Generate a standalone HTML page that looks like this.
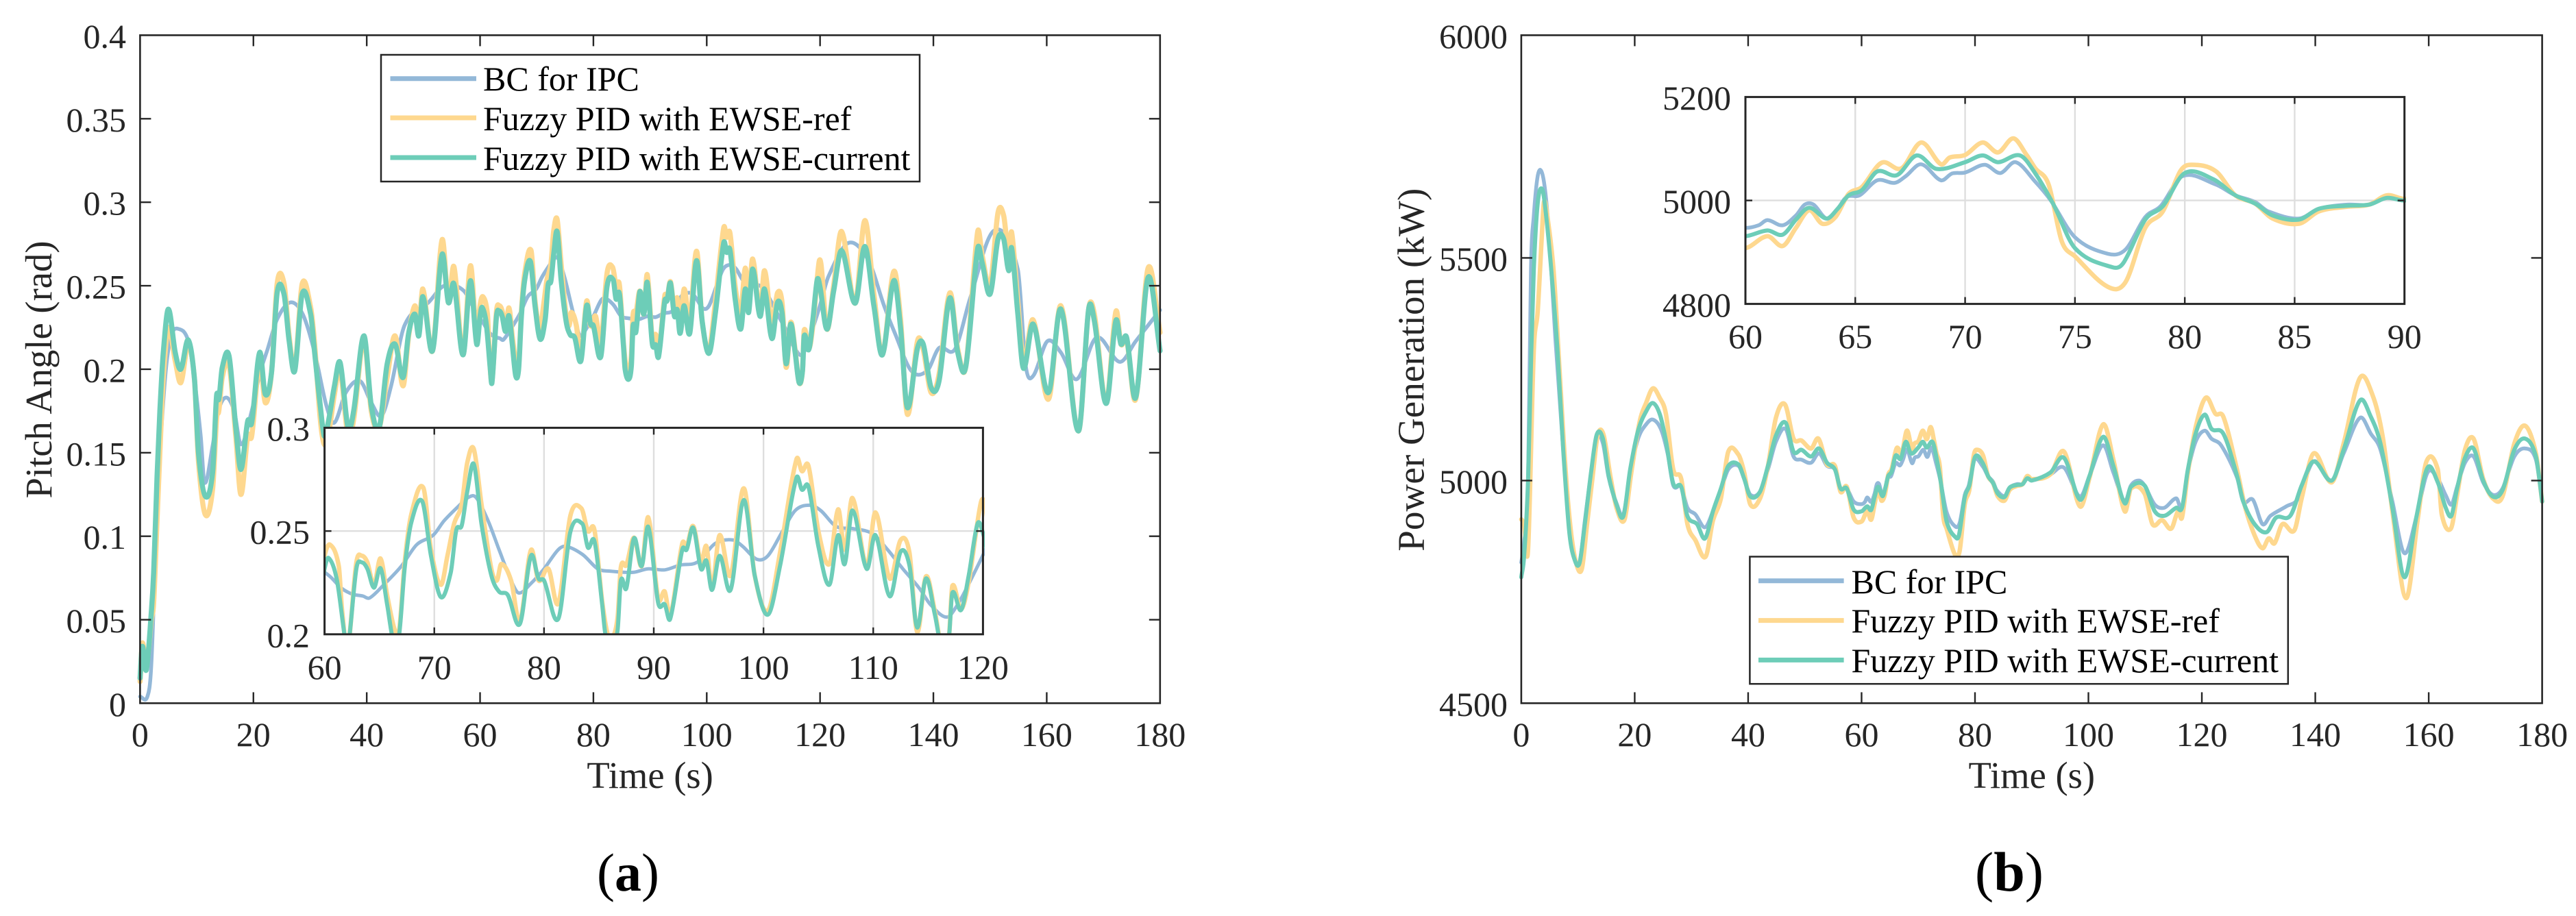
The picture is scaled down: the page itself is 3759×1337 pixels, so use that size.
<!DOCTYPE html>
<html lang="en">
<head>
<meta charset="utf-8">
<title>Pitch angle and power generation comparison</title>
<style>
html,body{margin:0;padding:0;background:#fff;width:3759px;height:1337px;overflow:hidden;}
svg{display:block;font-family:"Liberation Serif","Times New Roman",serif;}
</style>
</head>
<body>
<svg id="figure" xmlns="http://www.w3.org/2000/svg" width="3759" height="1337" viewBox="0 0 3759 1337">
  <rect x="0" y="0" width="3759" height="1337" fill="#fff"/>
  <defs>
    <clipPath id="clip-a"><rect x="200" y="47" width="1498" height="984"/></clipPath>
    <clipPath id="clip-a-inset"><rect x="472" y="624" width="965" height="302"/></clipPath>
    <clipPath id="clip-b"><rect x="2216" y="47" width="1497" height="984"/></clipPath>
    <clipPath id="clip-b-inset"><rect x="2546" y="141" width="965" height="303"/></clipPath>
  </defs>

  <g id="panel-a">
    <g id="main-a"></g>
    <text x="948.6" y="1150" font-size="54.6" text-anchor="middle" fill="#262626">Time (s)</text>
    <text transform="translate(75,539.5) rotate(-90)" font-size="54.6" text-anchor="middle" fill="#262626">Pitch Angle (rad)</text>
    <g id="inset-a"></g>
    <g>
      <rect x="556" y="80" width="786" height="185" fill="#fff" stroke="#262626" stroke-width="2.5"/>
      <line x1="569.5" x2="695" y1="114.7" y2="114.7" stroke="#93b8d8" stroke-width="7"/>
      <text x="705" y="132" font-size="50" fill="#000">BC for IPC</text>
      <line x1="569.5" x2="695" y1="172" y2="172" stroke="#fed88f" stroke-width="7"/>
      <text x="705" y="190" font-size="50" fill="#000">Fuzzy PID with EWSE-ref</text>
      <line x1="569.5" x2="695" y1="230" y2="230" stroke="#6dcdb8" stroke-width="7"/>
      <text x="705" y="248" font-size="50" fill="#000">Fuzzy PID with EWSE-current</text>
    </g>
    <text x="916.5" y="1300" font-size="78" text-anchor="middle" fill="#000">(<tspan font-weight="bold">a</tspan>)</text>
  </g>

  <g id="panel-b">
    <g id="main-b"></g>
    <text x="2964.8" y="1150" font-size="54.6" text-anchor="middle" fill="#262626">Time (s)</text>
    <text transform="translate(2077.5,539.7) rotate(-90)" font-size="55" text-anchor="middle" fill="#262626" textLength="530" lengthAdjust="spacing">Power Generation (kW)</text>
    <g id="inset-b"></g>
    <g>
      <rect x="2553.4" y="812.5" width="785.4" height="185.7" fill="#fff" stroke="#262626" stroke-width="2.5"/>
      <line x1="2566" x2="2690.6" y1="847.8" y2="847.8" stroke="#93b8d8" stroke-width="7"/>
      <text x="2701.5" y="866" font-size="50" fill="#000">BC for IPC</text>
      <line x1="2566" x2="2690.6" y1="905.6" y2="905.6" stroke="#fed88f" stroke-width="7"/>
      <text x="2701.5" y="923" font-size="50" fill="#000">Fuzzy PID with EWSE-ref</text>
      <line x1="2566" x2="2690.6" y1="963.4" y2="963.4" stroke="#6dcdb8" stroke-width="7"/>
      <text x="2701.5" y="981" font-size="50" fill="#000">Fuzzy PID with EWSE-current</text>
    </g>
    <text x="2932" y="1300" font-size="82" text-anchor="middle" fill="#000">(<tspan font-weight="bold">b</tspan>)</text>
  </g>
</svg>

<script>
/* ---------- Panel (a): pitch angle (rad) ---------- */
var pitchTimeBlue = [0,1.3,2,3,4.4,5.5,6.9,8.5,9.6,10.7,
  11.4,12.8,13.8,15.2,16.6,17.8,19.7,21.1,22.5,24.2,
  26.5,28.7,30.8,32.9,34.3,36.3,38.8,40.8,42.6,44.3,
  46.7,50.9,53.7,57.1,59.6,
  60.6,61.5,62.5,63.5,64.1,65.4,67,68.4,69.9,70.9,
  72.2,73.1,73.8,74.9,75.9,77,77.7,78.8,80,81.3,
  82,83.5,84.9,86,88.1,89.5,91,92.4,94,95.6,
  97.2,98.1,99.4,100.4,101.7,102.9,104.2,105.2,106.6,108.1,
  109.9,111.3,112.7,114.2,115.2,116.7,117.7,118.8,120,121.5,
  125,128.5,131.3,133.3,136.1,138.9,141,143.8,146.5,150.7,
  154.9,156.3,157.6,160.1,162.5,165.3,168.8,172.9,175.7,180];
var pitchBlue = [.004,.004,.024,.117,.194,.22,.224,.217,.194,.16,
  .132,.154,.175,.183,.175,.155,.175,.197,.212,.23,
  .24,.233,.21,.178,.168,.186,.193,.18,.172,.19,
  .2265,.24,.25,.247,.232,
  .2275,.2225,.2195,.2185,.2176,.224,.233,.2434,.248,.255,
  .262,.2663,.2663,.255,.241,.226,.22,.2246,.2317,.241,
  .2426,.2387,.2317,.2306,.23,.2317,.2312,.2335,.235,.244,
  .2457,.2426,.2363,.238,.2496,.26,.2625,.26,.2523,.2512,
  .2488,.241,.2317,.2223,.2145,.2083,.2145,.2254,.2384,.2557,
  .2756,.2654,.238,.2208,.199,.199,.2127,.212,.2427,.283,
  .2597,.202,.196,.2167,.21,.194,.219,.2044,.2167,.2354];

var pitchTimeYellow = [0,.4,1.1,2,2.4,3,3.5,4.1,5,6.2,
  7.2,8.5,9.6,10.3,11.5,12.8,13.5,13.9,14.5,15.7,
  16.9,17.8,19,19.7,21.1,22.1,23.2,24.2,25.4,26.3,
  27.3,28.6,30.1,30.8,31.8,32.5,33.2,34.3,35.3,36.7,
  37.7,39.5,40.8,42.2,43.6,45,46.4,47.4,48.5,49.2,
  49.9,51.6,53.3,54.4,55.4,57,58.3,59.4,
  60,60.5,61.3,61.6,62.1,62.9,63.4,63.9,64.5,65.1,
  65.7,66.4,66.8,67.3,67.9,69,69.7,70.6,71.2,71.8,
  72.5,73,73.6,74.3,75.2,75.7,76.1,77,77.8,78.8,
  79.5,80.4,81.3,82.4,83.4,84,84.6,85.3,85.8,86.2,
  86.7,87,87.5,88.2,88.9,89.5,90.4,91,91.5,92.6,
  93,93.6,94.3,94.8,95.3,96,97,98.2,99.2,100.4,
  101.5,103,103.5,104.1,105,106,106.8,107.4,108.1,109.4,
  110.2,111.5,112.5,113.3,114,114.8,115.6,116.3,116.9,117.2,
  118,118.7,119.8,120.2,121.2,122.4,123.8,126.2,127.9,129.5,
  131,133,134.2,135.4,137.2,138.2,139.6,141,142.9,144.3,
  145.7,147.8,148.6,150,151.4,152.4,153.3,153.8,154.9,155.9,
  157.6,160.3,162.5,165.6,167.4,168.4,170.5,172.2,173.1,174.1,
  175.7,177.9,180];
var pitchYellow = [.013,.036,.022,.05,.06,.11,.15,.195,.225,.205,
  .192,.215,.194,.145,.113,.128,.17,.175,.195,.203,
  .16,.125,.16,.16,.205,.18,.198,.2515,.2515,.22,
  .2,.251,.237,.215,.17,.155,.16,.185,.2,.16,
  .17,.218,.175,.165,.195,.22,.19,.22,.238,.225,
  .248,.211,.2775,.24,.2613,.2086,.262,.218,
  .238,.2434,.233,.2114,.193,.2348,.238,.2348,.2238,.2367,
  .219,.202,.202,.2348,.258,.271,.241,.224,.238,.2535,
  .263,.283,.2897,.263,.2317,.226,.234,.226,.206,.2407,
  .226,.2317,.215,.2574,.261,.25,.2504,.216,.2,.198,
  .208,.2325,.2335,.2468,.233,.2566,.2175,.2207,.209,.244,
  .2425,.2524,.2348,.2426,.2223,.248,.2285,.2707,.2285,.2114,
  .2395,.2847,.279,.2815,.25,.234,.2605,.241,.266,.233,
  .259,.227,.2457,.2395,.2012,.228,.2115,.192,.199,.2234,
  .2121,.2254,.2636,.262,.224,.25,.2825,.2395,.289,.245,
  .2086,.2585,.23,.173,.217,.212,.186,.197,.2457,.212,
  .2013,.282,.268,.25,.2937,.292,.268,.282,.24,.205,
  .2295,.182,.238,.163,.236,.233,.18,.2345,.215,.218,
  .182,.2606,.222];

var pitchTimeGreen = [0,.4,1.1,2,2.4,3,3.5,4.1,5,6.2,
  7.2,8.5,9.6,10.3,11.5,12.8,13.5,13.9,14.5,15.7,
  16.9,17.8,19,19.7,21.1,22.1,23.2,24.2,25.4,26.3,
  27.3,28.6,30.1,30.8,31.8,32.5,33.2,34.3,35.3,36.7,
  37.7,39.5,40.8,42.2,43.6,45,46.4,47.4,48.5,49.2,
  49.9,51.6,53.3,54.4,55.4,57,58.3,59.4,
  60,60.36,61.1,61.8,62.1,62.9,63.4,63.9,64.5,65.1,
  65.7,66.3,66.8,67.3,67.9,68.9,69.7,70.6,71.5,72,
  72.5,73,73.6,74.3,75.2,75.9,76.7,77.8,78.8,79.5,
  80,81.3,82.4,83.5,84,84.6,85.3,85.6,86.2,86.7,
  87,87.5,88.2,88.9,89.5,90.4,91,91.5,92.6,93,
  93.6,94.3,94.8,95.3,96,97,98.2,99.2,100.4,101.5,
  103,103.5,104.1,105,106,106.8,107.4,108.1,109.4,110.2,
  111.5,112.5,113.3,114,114.8,115.6,116.3,116.9,117.2,118,
  118.7,119.5,120,121.2,122.4,123.8,126.2,127.9,129.5,131,
  133,134.2,135.4,137.2,138.2,139.6,141,142.9,144.3,145.7,
  147.8,148.6,150,151.4,152.4,153.3,153.8,154.9,155.9,157.6,
  160.3,162.5,165.6,167.4,168.4,170.5,172.2,173.1,174.1,175.7,
  177.9,180];
var pitchGreen = [.015,.034,.02,.055,.078,.136,.175,.21,.236,.21,
  .2,.2175,.194,.15,.124,.138,.184,.182,.201,.208,
  .165,.14,.169,.168,.21,.185,.198,.246,.245,.217,
  .199,.245,.233,.21,.178,.16,.168,.19,.204,.165,
  .175,.22,.178,.165,.203,.215,.195,.2216,.233,.22,
  .2435,.211,.2687,.24,.251,.2086,.253,.215,
  .2317,.237,.227,.2005,.192,.2317,.2348,.2317,.2226,.232,
  .2145,.196,.2,.232,.254,.2644,.238,.218,.23,.2504,
  .2527,.269,.2824,.2535,.2285,.2207,.219,.205,.238,.227,
  .226,.2075,.2496,.2535,.242,.245,.2145,.2,.194,.202,
  .226,.2223,.2465,.233,.252,.2153,.2145,.2075,.241,.241,
  .2516,.2317,.2356,.2215,.238,.2215,.265,.2285,.2095,.233,
  .2757,.27,.2714,.2426,.224,.248,.234,.26,.2317,.248,
  .2184,.24,.2333,.2033,.227,.21,.192,.199,.22,.2117,
  .2285,.2535,.249,.224,.2468,.271,.2395,.2735,.238,.2086,
  .253,.2248,.177,.2127,.215,.189,.193,.2427,.21,.2013,
  .272,.2637,.245,.278,.278,.259,.2726,.233,.2005,.227,
  .186,.236,.163,.236,.229,.1795,.229,.215,.219,.183,
  .255,.211];

var pitchXTicks = [0,20,40,60,80,100,120,140,160,180];
var pitchYTicks = [0,.05,.1,.15,.2,.25,.3,.35,.4];
var pitchYTickLabels = ['0','0.05','0.1','0.15','0.2','0.25','0.3','0.35','0.4'];
var pitchInsetXTicks = [60,70,80,90,100,110,120];
var pitchInsetYTicks = [.2,.25,.3];
var pitchInsetYTickLabels = ['0.2','0.25','0.3'];

/* ---------- Panel (b): power generation (kW) ---------- */
var powerTimeBlue = [0,.5,1.2,1.7,2.2,2.9,3.6,4.3,5,6,
  7.4,8.5,9.5,10.3,11.2,12.3,13.3,14.4,15.4,16.8,
  18,19.2,20.6,22,23.2,24.6,25.8,26.8,28.2,29.3,
  30.7,32.4,33.8,35.2,36.5,38.3,39.3,40.4,42.1,43.5,
  44.9,46.6,48,49.4,51.1,52.5,53.9,55.3,56.3,57.4,
  58.6,60,60.6,61,61.7,62.3,62.7,63.1,63.7,64.2,
  64.6,65.2,66,66.8,67.3,68,68.9,69.4,70,70.9,
  71.6,72.3,73.2,73.9,75,76.5,77.3,78.2,78.9,79.9,
  81.4,82.3,83.2,83.8,85.2,86.1,87.4,88.4,89.2,90,
  93.3,95.7,98.5,100.2,102.6,104.4,106.4,107.5,108.9,109.9,
  111.7,113.4,115.5,116.5,117.5,118.9,120.5,121.7,123.4,126.2,
  127.3,129,130.7,132.1,134.9,137,139.7,142.9,145,147.9,
  149.8,151.5,153.6,155.7,157.8,159.8,161.6,163,164,165,
  166.4,167.9,169.6,171.3,173,175.1,177,178.9,180];
var powerBlue = [4816,4860,5000,5471,5593,5684,5693,5641,5532,5320,
  5069,4895,4823,4816,4909,5018,5101,5083,5007,4949,
  4924,5018,5094,5126,5137,5116,5061,4989,4986,4939,
  4924,4895,4931,4978,5025,5033,5004,4968,4975,5025,
  5087,5116,5054,5047,5040,5061,5033,5025,4982,4982,
  4953,4947,4952,4962,4952,4971,4992,4992,4965,4984,
  5007,5010,5039,5034,5047,5070,5039,5052,5054,5069,
  5053,5074,5036,5000,4929,4897,4905,4968,4989,5047,
  5031,5010,4997,4979,4965,4984,4992,4992,5007,5000,
  5014,5029,4964,5011,5079,5018,4953,4989,5000,4989,
  4946,4939,4960,4939,5018,5087,5112,5094,5079,5007,
  4953,4957,4902,4921,4942,4960,5043,5000,5061,5141,
  5105,5069,4953,4837,4917,5018,5004,4967,4946,4986,
  5040,5054,4996,4968,4982,5054,5072,5047,4953];

var powerTimeYellow = [0,.5,1.2,2.2,2.9,3.6,4,4.6,5.7,6.7,
  7.8,8.8,9.8,10.7,11.6,12.6,13.5,14.5,15.7,16.8,
  18.2,19.4,20.9,22,23.2,24.4,25.5,26.8,28.2,29.3,
  30.7,32.5,33.8,35.2,36.5,38.3,39.3,40.4,42.1,43.5,
  44.9,46.5,48,49.4,51.1,52.4,53.9,55.3,56.3,57.4,
  58.6,60,61,61.7,62.3,62.9,63.5,64.1,64.7,65.3,
  66.2,67.1,68,68.9,69.3,70,70.8,71.5,72.2,72.8,
  73.2,73.8,74.4,75,76.5,77.3,78.2,79,79.8,80.3,
  81.4,82.3,83.2,84,85.2,86.1,87.4,88.4,89.2,90,
  93.3,95.7,98.5,100.2,102.6,104.4,106.4,107.5,109.9,111.3,
  113,114.6,115.8,116.5,117.5,118.9,120.7,122.4,123.8,126.2,
  127.6,129.3,130.7,131.8,132.8,134.2,136.3,137.6,139.7,142.9,
  145,147.9,150.1,151.9,153.6,156,158.1,159.6,161.6,162.3,
  163.9,165,166.4,167.9,169.6,171.3,173,175.1,177,178.9,180];
var powerYellow = [4913,4902,4845,5289,5380,5544,5626,5593,5471,5259,
  5025,4881,4809,4803,4902,5011,5103,5103,5011,4939,
  4912,5018,5134,5174,5207,5186,5150,5025,5004,4902,
  4866,4829,4910,4960,5065,5058,5018,4946,4960,5033,
  5141,5171,5094,5090,5072,5094,5036,5033,4975,4986,
  4917,4908,4931,4912,4947,4981,4955,4968,5013,5026,
  5073,5062,5112,5070,5083,5088,5112,5093,5120,5088,
  5062,5031,4921,4892,4833,4842,4947,4979,5057,5069,
  5057,5010,4994,4965,4955,4979,4988,4992,5010,5003,
  5014,5065,4942,5007,5126,5047,4931,4982,4971,4902,
  4911,4892,4931,4917,5014,5119,5186,5150,5143,5025,
  4942,4877,4848,4870,4859,4902,4888,4960,5061,4996,
  5083,5231,5192,5098,4931,4736,4917,5043,5025,4924,
  4892,4967,5069,5094,5004,4960,4964,5083,5123,5061,4953];

var powerTimeGreen = [0,.5,1.2,1.7,2.2,2.9,3.7,4.4,5.3,6.4,
  7.4,8.5,9.5,10.3,11.2,12.3,13.3,14.4,15.4,16.8,
  18,19.2,20.6,22,23.2,24.4,25.5,26.8,28.2,29.3,
  31,32.4,33.8,35.2,36.5,38.3,39.3,40.4,42.1,43.5,
  44.9,46.6,48,49.4,51.1,52.5,53.9,55.3,56.3,57.4,
  58.6,60,61,61.7,62.3,62.9,63.7,64.2,64.7,65.3,
  66,66.9,67.8,68.7,70,70.8,71.5,72.5,73.2,74,
  75,76.7,77.2,78.2,79,80,81.3,82.3,83.2,84,
  85.2,86.1,87.4,88.4,89.2,90,93.3,95.7,98.5,100.2,
  102.6,104.4,106.4,107.5,109.9,111.7,113.4,115.5,116.5,117.5,
  118.9,120.5,121.7,123.8,126.2,127.3,129.3,131.4,133.1,135.6,
  137.6,139.7,142.9,145,147.9,149.8,151.5,153.6,155.7,157.8,
  159.8,161.6,163,164,165,166.4,167.9,169.6,171.3,173,
  175.1,177,178.9,180];
var powerGreen = [4783,4830,5000,5259,5471,5623,5654,5593,5471,5289,
  5069,4881,4819,4816,4902,5018,5103,5094,5011,4946,
  4920,5025,5112,5155,5174,5150,5090,4993,4986,4920,
  4902,4870,4931,4982,5033,5036,5004,4964,4975,5033,
  5101,5130,5065,5069,5054,5072,5040,5025,4982,4982,
  4935,4931,4942,4934,4963,4986,4965,4984,5010,5020,
  5056,5049,5087,5061,5074,5087,5074,5087,5052,4994,
  4908,4871,4879,4963,4989,5053,5041,5010,4994,4971,
  4963,4984,4990,4992,5005,5000,5018,5051,4957,5011,
  5098,5033,4949,4986,4989,4931,4921,4939,4939,5022,
  5105,5148,5116,5105,5011,4953,4902,4884,4917,4921,
  4989,5043,5000,5069,5180,5143,5083,4939,4783,4917,
  5029,4996,4939,4921,4982,5051,5072,5000,4964,4978,
  5069,5094,5054,4953];

var powerXTicks = [0,20,40,60,80,100,120,140,160,180];
var powerYTicks = [4500,5000,5500,6000];
var powerYTickLabels = ['4500','5000','5500','6000'];
var powerInsetXTicks = [60,65,70,75,80,85,90];
var powerInsetYTicks = [4800,5000,5200];
var powerInsetYTickLabels = ['4800','5000','5200'];

/* ---------- Drawing helpers ---------- */
var SVG_NS = 'http://www.w3.org/2000/svg';
var INK = '#262626';

function linearScale(d0, d1, r0, r1) {
  return function (v) { return r0 + (v - d0) * (r1 - r0) / (d1 - d0); };
}

function node(parent, tag) {
  var el = document.createElementNS(SVG_NS, tag);
  parent.appendChild(el);
  return el;
}

function seg(parent, x1, y1, x2, y2, color, width, name) {
  var el = node(parent, 'line');
  el.setAttribute('x1', x1);
  el.setAttribute('y1', y1);
  el.setAttribute('x2', x2);
  el.setAttribute('y2', y2);
  el.setAttribute('stroke', color);
  el.setAttribute('stroke-width', width);
  
  
  return el;
}

function tickText(parent, x, y, anchor, label, name) {
  var el = node(parent, 'text');
  el.setAttribute('x', x);
  el.setAttribute('y', y);
  el.setAttribute('text-anchor', anchor);
  el.setAttribute('font-size', '50');
  el.setAttribute('fill', INK);
  el.textContent = label;
  
  
  return el;
}

/* Smooth curve through the samples inside the x window, using non-uniform Hermite slopes */
function curvePath(times, values, sx, sy, xDomain) {
  var n = Math.min(times.length, values.length);
  var px = [], py = [], i;
  for (i = 0; i < n; i++) {
    var inWindow = false;
    for (var k = Math.max(i - 2, 0); k <= Math.min(i + 2, n - 1); k++) {
      if (times[k] >= xDomain[0] && times[k] <= xDomain[1]) { inWindow = true; }
    }
    if (inWindow) {
      px.push(sx(times[i]));
      py.push(sy(values[i]));
    }
  }
  n = px.length;
  var slope = [];
  for (i = 0; i < n; i++) {
    var a = Math.max(i - 1, 0), b = Math.min(i + 1, n - 1);
    slope.push((py[b] - py[a]) / ((px[b] - px[a]) || 1));
  }
  var d = 'M' + px[0].toFixed(1) + ' ' + py[0].toFixed(1);
  for (i = 1; i < n; i++) {
    var h = (px[i] - px[i - 1]) / 3;
    d += 'C' + (px[i - 1] + h).toFixed(1) + ' ' + (py[i - 1] + slope[i - 1] * h).toFixed(1) +
         ' ' + (px[i] - h).toFixed(1) + ' ' + (py[i] - slope[i] * h).toFixed(1) +
         ' ' + px[i].toFixed(1) + ' ' + py[i].toFixed(1);
  }
  return d;
}

function drawSeries(parent, times, values, sx, sy, xDomain, color, width, name) {
  var el = node(parent, 'path');
  el.setAttribute('d', curvePath(times, values, sx, sy, xDomain));
  el.setAttribute('fill', 'none');
  el.setAttribute('stroke', color);
  el.setAttribute('stroke-width', width);
  el.setAttribute('stroke-linejoin', 'round');
  el.setAttribute('stroke-linecap', 'round');
  
  
  return el;
}

function drawPlot(cfg) {
  var g = document.getElementById(cfg.id);
  var box = cfg.box;
  var sx = linearScale(cfg.xDomain[0], cfg.xDomain[1], box.left, box.right);
  var sy = linearScale(cfg.yDomain[0], cfg.yDomain[1], box.bottom, box.top);

  if (cfg.background) {
    var bg = node(g, 'rect');
    bg.setAttribute('x', box.left);
    bg.setAttribute('y', box.top);
    bg.setAttribute('width', box.right - box.left);
    bg.setAttribute('height', box.bottom - box.top);
    bg.setAttribute('fill', '#fff');
    
    
  }

  if (cfg.grid) {
    cfg.xTicks.forEach(function (t) {
      if (t > cfg.xDomain[0] && t < cfg.xDomain[1]) {
        seg(g, sx(t), box.top, sx(t), box.bottom, '#dedede', 2.4, cfg.prefix + '-x-gridline');
      }
    });
    cfg.yTicks.forEach(function (v) {
      if (v > cfg.yDomain[0] && v < cfg.yDomain[1]) {
        seg(g, box.left, sy(v), box.right, sy(v), '#dedede', 2.4, cfg.prefix + '-y-gridline');
      }
    });
  }

  var lines = node(g, 'g');
  lines.setAttribute('clip-path', 'url(#' + cfg.clip + ')');
  
  
  drawSeries(lines, cfg.blue[0], cfg.blue[1], sx, sy, cfg.xDomain, '#93b8d8', cfg.widths[0], cfg.prefix + '-line-bc-for-ipc');
  drawSeries(lines, cfg.yellow[0], cfg.yellow[1], sx, sy, cfg.xDomain, '#fed88f', cfg.widths[1], cfg.prefix + '-line-ewse-ref');
  drawSeries(lines, cfg.green[0], cfg.green[1], sx, sy, cfg.xDomain, '#6dcdb8', cfg.widths[2], cfg.prefix + '-line-ewse-current');

  cfg.xTicks.forEach(function (t) {
    var x = sx(t);
    if (t > cfg.xDomain[0] && t < cfg.xDomain[1]) {
      seg(g, x, box.bottom, x, box.bottom - cfg.tickLen, INK, 2.4, cfg.prefix + '-x-tick');
      seg(g, x, box.top, x, box.top + cfg.tickLen, INK, 2.4, cfg.prefix + '-x-tick-top');
    }
    tickText(g, x, cfg.xLabelY, 'middle', String(t), cfg.prefix + '-x-tick-label');
  });
  cfg.yTicks.forEach(function (v, i) {
    var y = sy(v);
    if (v > cfg.yDomain[0] && v < cfg.yDomain[1]) {
      seg(g, box.left, y, box.left + cfg.tickLen, y, INK, 2.4, cfg.prefix + '-y-tick');
      seg(g, box.right, y, box.right - cfg.tickLen, y, INK, 2.4, cfg.prefix + '-y-tick-right');
    }
    tickText(g, cfg.yLabelX, y + 18.5, 'end', cfg.yLabels[i], cfg.prefix + '-y-tick-label');
  });

  var frame = node(g, 'rect');
  frame.setAttribute('x', box.left);
  frame.setAttribute('y', box.top);
  frame.setAttribute('width', box.right - box.left);
  frame.setAttribute('height', box.bottom - box.top);
  frame.setAttribute('fill', 'none');
  frame.setAttribute('stroke', INK);
  frame.setAttribute('stroke-width', cfg.frameWidth);
  
  
}

/* ---------- Render ---------- */
drawPlot({
  id: 'main-a', prefix: 'pitch-main', clip: 'clip-a',
  box: {left: 204.4, right: 1692.8, top: 51.4, bottom: 1026.4},
  xDomain: [0, 180], yDomain: [0, .4],
  xTicks: pitchXTicks, yTicks: pitchYTicks, yLabels: pitchYTickLabels,
  xLabelY: 1089, yLabelX: 184, tickLen: 16, frameWidth: 2.6,
  widths: [5.5, 7.5, 7.5],
  blue: [pitchTimeBlue, pitchBlue],
  yellow: [pitchTimeYellow, pitchYellow],
  green: [pitchTimeGreen, pitchGreen]
});
drawPlot({
  id: 'inset-a', prefix: 'pitch-inset', clip: 'clip-a-inset', background: true, grid: true,
  box: {left: 473.6, right: 1434.4, top: 624.4, bottom: 925.8},
  xDomain: [60, 120], yDomain: [.2, .3],
  xTicks: pitchInsetXTicks, yTicks: pitchInsetYTicks, yLabels: pitchInsetYTickLabels,
  xLabelY: 991, yLabelX: 452, tickLen: 10, frameWidth: 3,
  widths: [5, 6.5, 6],
  blue: [pitchTimeBlue, pitchBlue],
  yellow: [pitchTimeYellow, pitchYellow],
  green: [pitchTimeGreen, pitchGreen]
});
drawPlot({
  id: 'main-b', prefix: 'power-main', clip: 'clip-b',
  box: {left: 2219.9, right: 3709.6, top: 51.4, bottom: 1026.4},
  xDomain: [0, 180], yDomain: [4500, 6000],
  xTicks: powerXTicks, yTicks: powerYTicks, yLabels: powerYTickLabels,
  xLabelY: 1089, yLabelX: 2200, tickLen: 16, frameWidth: 2.6,
  widths: [5.5, 6.5, 6],
  blue: [powerTimeBlue, powerBlue],
  yellow: [powerTimeYellow, powerYellow],
  green: [powerTimeGreen, powerGreen]
});
drawPlot({
  id: 'inset-b', prefix: 'power-inset', clip: 'clip-b-inset', background: true, grid: true,
  box: {left: 2547, right: 3508.7, top: 141.6, bottom: 443.6},
  xDomain: [60, 90], yDomain: [4800, 5200],
  xTicks: powerInsetXTicks, yTicks: powerInsetYTicks, yLabels: powerInsetYTickLabels,
  xLabelY: 508, yLabelX: 2526, tickLen: 10, frameWidth: 3,
  widths: [5.5, 6.5, 6],
  blue: [powerTimeBlue, powerBlue],
  yellow: [powerTimeYellow, powerYellow],
  green: [powerTimeGreen, powerGreen]
});
</script>
</body>
</html>
